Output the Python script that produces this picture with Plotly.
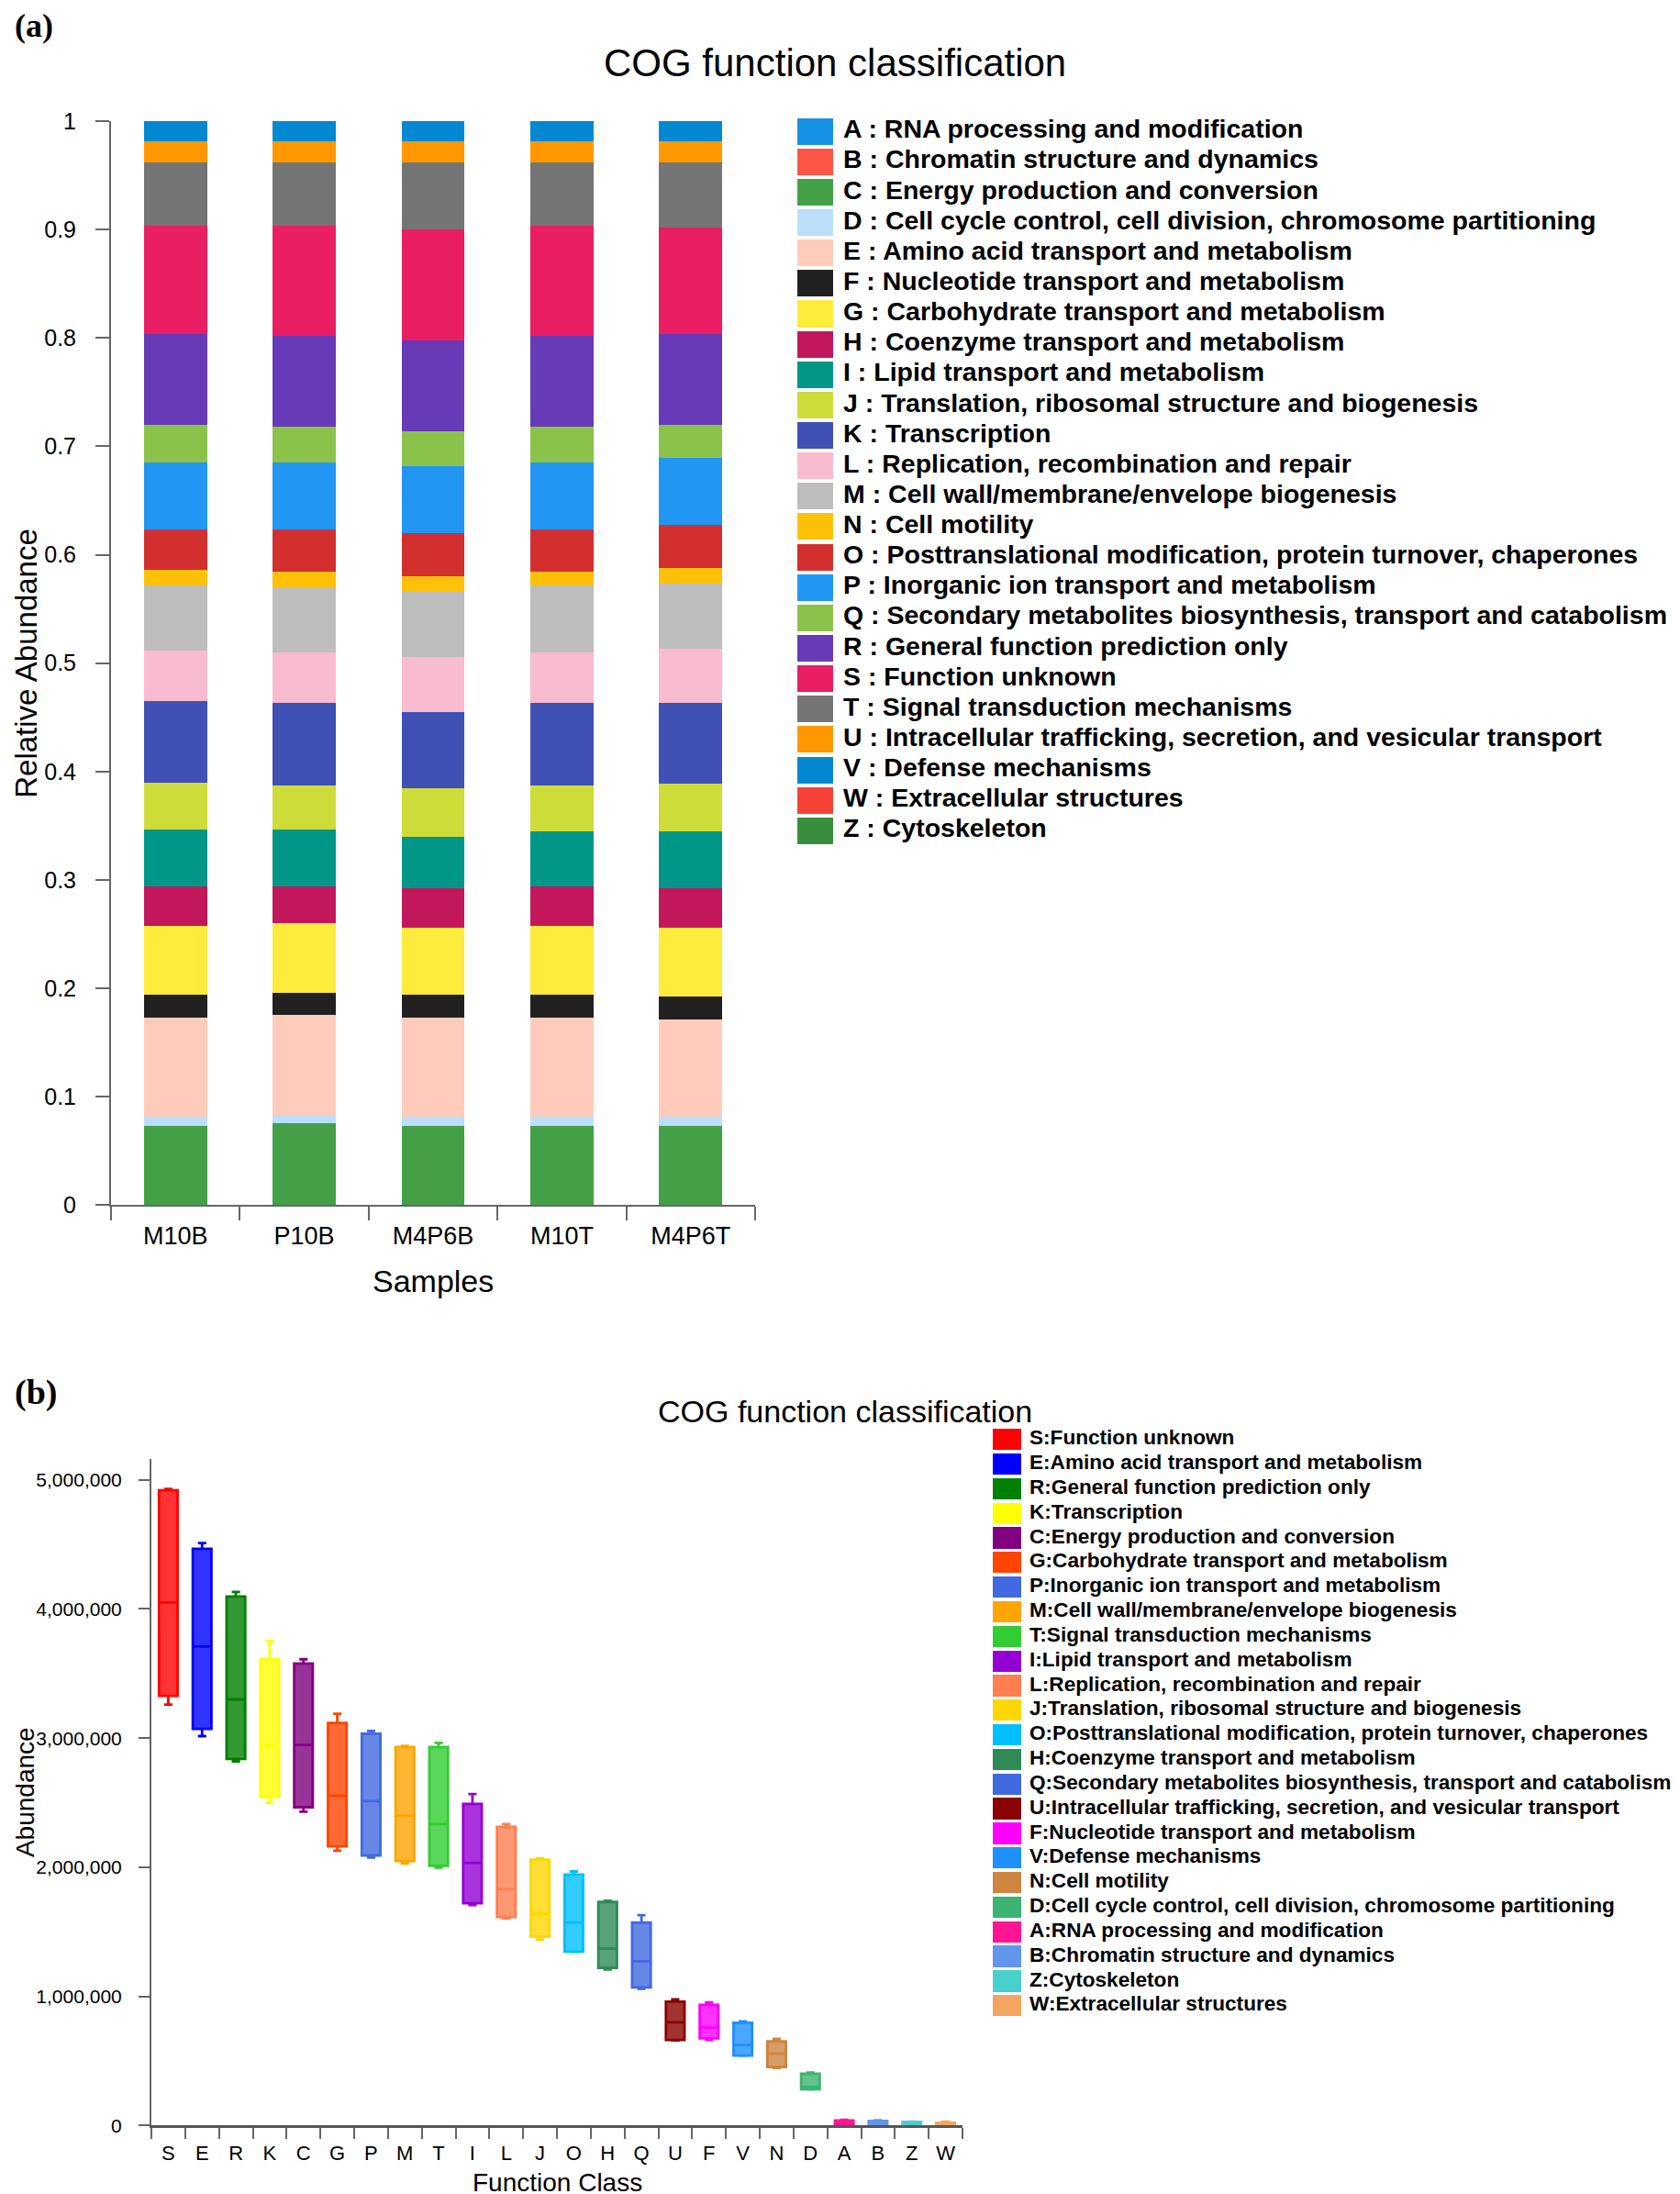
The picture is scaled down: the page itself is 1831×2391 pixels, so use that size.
import plotly.graph_objects as go

# Figure size (page has an 8px body margin); vertical placement calibrated to the page photo
OFF_X = 8
W, H = 1815, 2405
Y_SCALE, Y_OFF = 0.9873, 23.0

# ---------------- Panel (a) data ----------------
samples = ["M10B", "P10B", "M4P6B", "M10T", "M4P6T"]
cog_letters = ["A", "B", "C", "D", "E", "F", "G", "H", "I", "J", "K", "L", "M",
               "N", "O", "P", "Q", "R", "S", "T", "U", "V", "W", "Z"]
cog_names = [
    "RNA processing and modification",
    "Chromatin structure and dynamics",
    "Energy production and conversion",
    "Cell cycle control, cell division, chromosome partitioning",
    "Amino acid transport and metabolism",
    "Nucleotide transport and metabolism",
    "Carbohydrate transport and metabolism",
    "Coenzyme transport and metabolism",
    "Lipid transport and metabolism",
    "Translation, ribosomal structure and biogenesis",
    "Transcription",
    "Replication, recombination and repair",
    "Cell wall/membrane/envelope biogenesis",
    "Cell motility",
    "Posttranslational modification, protein turnover, chaperones",
    "Inorganic ion transport and metabolism",
    "Secondary metabolites biosynthesis, transport and catabolism",
    "General function prediction only",
    "Function unknown",
    "Signal transduction mechanisms",
    "Intracellular trafficking, secretion, and vesicular transport",
    "Defense mechanisms",
    "Extracellular structures",
    "Cytoskeleton",
]
# relative abundance per COG letter, samples order: M10B, P10B, M4P6B, M10T, M4P6T
rel_A = [0.0002, 0.0002, 0.0002, 0.0002, 0.0002]
rel_B = [0.0002, 0.0002, 0.0002, 0.0002, 0.0002]
rel_C = [0.0727, 0.0749, 0.0727, 0.0727, 0.0727]
rel_D = [0.0083, 0.0082, 0.0083, 0.0083, 0.0083]
rel_E = [0.0920, 0.0922, 0.0920, 0.0920, 0.0900]
rel_F = [0.0205, 0.0204, 0.0205, 0.0205, 0.0208]
rel_G = [0.0641, 0.0640, 0.0619, 0.0641, 0.0636]
rel_H = [0.0364, 0.0343, 0.0368, 0.0364, 0.0368]
rel_I = [0.0520, 0.0520, 0.0476, 0.0502, 0.0520]
rel_J = [0.0430, 0.0406, 0.0446, 0.0424, 0.0445]
rel_K = [0.0760, 0.0766, 0.0701, 0.0766, 0.0745]
rel_L = [0.0460, 0.0463, 0.0507, 0.0463, 0.0498]
rel_M = [0.0604, 0.0604, 0.0605, 0.0619, 0.0603]
rel_N = [0.0143, 0.0139, 0.0143, 0.0124, 0.0143]
rel_O = [0.0377, 0.0396, 0.0396, 0.0396, 0.0395]
rel_P = [0.0617, 0.0617, 0.0621, 0.0617, 0.0622]
rel_Q = [0.0343, 0.0324, 0.0320, 0.0324, 0.0301]
rel_R = [0.0840, 0.0840, 0.0840, 0.0840, 0.0840]
rel_S = [0.0998, 0.1017, 0.1017, 0.1017, 0.0979]
rel_T = [0.0580, 0.0580, 0.0618, 0.0580, 0.0599]
rel_U = [0.0200, 0.0200, 0.0200, 0.0200, 0.0200]
rel_V = [0.0188, 0.0188, 0.0188, 0.0188, 0.0188]
rel_W = [0.0001, 0.0001, 0.0001, 0.0001, 0.0001]
rel_Z = [0.0003, 0.0003, 0.0003, 0.0003, 0.0003]
rel_values = [rel_A, rel_B, rel_C, rel_D, rel_E, rel_F, rel_G, rel_H, rel_I, rel_J,
              rel_K, rel_L, rel_M, rel_N, rel_O, rel_P, rel_Q, rel_R, rel_S, rel_T,
              rel_U, rel_V, rel_W, rel_Z]
colors_a = ["#1592E6", "#FF5547", "#43A047", "#BBDEFB", "#FFCCBC", "#212121",
            "#FFEB3B", "#C2185B", "#009688", "#CDDC39", "#3F51B5", "#F8BBD0",
            "#BDBDBD", "#FFC107", "#D32F2F", "#2196F3", "#8BC34A", "#673AB7",
            "#E91E63", "#757575", "#FF9800", "#0288D1", "#F44336", "#388E3C"]
yticks_a = [0, 0.1, 0.2, 0.3, 0.4, 0.5, 0.6, 0.7, 0.8, 0.9, 1]
yticks_a_text = ["0", "0.1", "0.2", "0.3", "0.4", "0.5", "0.6", "0.7", "0.8", "0.9", "1"]

# ---------------- Panel (b) data ----------------
func_class = ["S", "E", "R", "K", "C", "G", "P", "M", "T", "I", "L", "J", "O",
              "H", "Q", "U", "F", "V", "N", "D", "A", "B", "Z", "W"]
func_names = [
    "Function unknown", "Amino acid transport and metabolism",
    "General function prediction only", "Transcription",
    "Energy production and conversion", "Carbohydrate transport and metabolism",
    "Inorganic ion transport and metabolism", "Cell wall/membrane/envelope biogenesis",
    "Signal transduction mechanisms", "Lipid transport and metabolism",
    "Replication, recombination and repair",
    "Translation, ribosomal structure and biogenesis",
    "Posttranslational modification, protein turnover, chaperones",
    "Coenzyme transport and metabolism",
    "Secondary metabolites biosynthesis, transport and catabolism",
    "Intracellular trafficking, secretion, and vesicular transport",
    "Nucleotide transport and metabolism", "Defense mechanisms", "Cell motility",
    "Cell cycle control, cell division, chromosome partitioning",
    "RNA processing and modification", "Chromatin structure and dynamics",
    "Cytoskeleton", "Extracellular structures",
]
# abundance of each class in the five samples (sorted)
abund_S = [3260000, 3350000, 4050000, 4915000, 4930000]
abund_E = [3016000, 3090000, 3710000, 4452000, 4510000]
abund_R = [2820000, 2845000, 3300000, 4085000, 4132000]
abund_K = [2500000, 2560000, 2947000, 3568000, 3753000]
abund_C = [2430000, 2477000, 2947000, 3568000, 3611000]
abund_G = [2129000, 2174000, 2553000, 3094000, 3189000]
abund_P = [2075000, 2098000, 2513000, 3028000, 3056000]
abund_M = [2030000, 2055000, 2400000, 2928000, 2940000]
abund_T = [1998000, 2015000, 2335000, 2920000, 2963000]
abund_I = [1707000, 1726000, 2034000, 2466000, 2568000]
abund_L = [1605000, 1619000, 1830000, 2305000, 2335000]
abund_J = [1439000, 1470000, 1641000, 2055000, 2070000]
abund_O = [1345000, 1347000, 1572000, 1935000, 1968000]
abund_H = [1209000, 1226000, 1370000, 1728000, 1742000]
abund_Q = [1060000, 1074000, 1273000, 1553000, 1629000]
abund_U = [660000, 664000, 800000, 955000, 977000]
abund_F = [664000, 680000, 759000, 929000, 955000]
abund_V = [540000, 543000, 624000, 794000, 806000]
abund_N = [447000, 457000, 557000, 645000, 671000]
abund_D = [280000, 281000, 300000, 398000, 410000]
abund_A = [5000, 8000, 25000, 38000, 45000]
abund_B = [5000, 8000, 22000, 35000, 42000]
abund_Z = [3000, 5000, 15000, 28000, 30000]
abund_W = [2000, 4000, 10000, 20000, 30000]
abund_values = [abund_S, abund_E, abund_R, abund_K, abund_C, abund_G, abund_P,
                abund_M, abund_T, abund_I, abund_L, abund_J, abund_O, abund_H,
                abund_Q, abund_U, abund_F, abund_V, abund_N, abund_D, abund_A,
                abund_B, abund_Z, abund_W]
colors_b = ["#FF0000", "#0000FF", "#008000", "#FFFF00", "#800080", "#FF4500",
            "#4169E1", "#FFA500", "#32CD32", "#9400D3", "#FF7F50", "#FFD700",
            "#00BFFF", "#2E8B57", "#4169E1", "#8B0000", "#FF00FF", "#1E90FF",
            "#CD853F", "#3CB371", "#FF1493", "#6495ED", "#48D1CC", "#F4A460"]
yticks_b = [0, 1000000, 2000000, 3000000, 4000000, 5000000]
yticks_b_text = ["0", "1,000,000", "2,000,000", "3,000,000", "4,000,000", "5,000,000"]

FONT = "Arial, Liberation Sans, Helvetica, sans-serif"
SERIF = "Times New Roman, Liberation Serif, serif"


def px(xr):
    """reference x pixel -> paper fraction"""
    return (xr - OFF_X) / W


def fy(yr):
    """reference y pixel -> figure y pixel"""
    return (yr - Y_OFF) / Y_SCALE


def py(yr):
    """reference y pixel -> paper fraction"""
    return 1 - fy(yr) / H


def rgba(hexcol, a):
    h = hexcol.lstrip("#")
    r, g, b = int(h[0:2], 16), int(h[2:4], 16), int(h[4:6], 16)
    return f"rgba({r},{g},{b},{a})"


fig = go.Figure()

# ---- Panel (a): stacked bars ----
for letter, vals, col in zip(cog_letters, rel_values, colors_a):
    fig.add_trace(go.Bar(x=samples, y=vals, name=letter, marker=dict(color=col, line=dict(width=0)),
                         width=0.49, xaxis="x", yaxis="y", showlegend=False))

# ---- Panel (a): legend as its own subplot ----
n_a = len(cog_letters)
leg_a_top = 127.5
fig.add_trace(go.Bar(y=list(range(n_a)), x=[39] * n_a, base=0, orientation="h",
                     marker=dict(color=colors_a, line=dict(width=0)), width=0.876,
                     xaxis="x3", yaxis="y3", showlegend=False, hoverinfo="skip"))
fig.add_trace(go.Scatter(y=list(range(n_a)), x=[50] * n_a, mode="text",
                         text=[f"{l} : {n}" for l, n in zip(cog_letters, cog_names)],
                         textposition="middle right",
                         textfont=dict(family=FONT, size=28.5, color="#000000", weight="bold"),
                         xaxis="x3", yaxis="y3", showlegend=False, cliponaxis=False,
                         hoverinfo="skip"))

# ---- Panel (b): box plots ----
for cat, vals, col in zip(func_class, abund_values, colors_b):
    fig.add_trace(go.Box(x=[cat] * len(vals), y=vals, name=cat, boxpoints=False,
                         line=dict(color=col, width=2.8), fillcolor=rgba(col, 0.8),
                         whiskerwidth=0.45, width=0.55, xaxis="x2", yaxis="y2",
                         showlegend=False))

# ---- Panel (b): legend subplot ----
n_b = len(func_class)
leg_b_top = 1554.6
fig.add_trace(go.Bar(y=list(range(n_b)), x=[31] * n_b, base=0, orientation="h",
                     marker=dict(color=colors_b, line=dict(width=0)), width=0.866,
                     xaxis="x4", yaxis="y4", showlegend=False, hoverinfo="skip"))
fig.add_trace(go.Scatter(y=list(range(n_b)), x=[40] * n_b, mode="text",
                         text=[f"{l}:{n}" for l, n in zip(func_class, func_names)],
                         textposition="middle right",
                         textfont=dict(family=FONT, size=22.6, color="#000000", weight="bold"),
                         xaxis="x4", yaxis="y4", showlegend=False, cliponaxis=False,
                         hoverinfo="skip"))

axis_common = dict(showgrid=False, zeroline=False, showline=True, ticks="outside",
                   tickcolor="#666666", tickwidth=2, linecolor="#666666", linewidth=2,
                   tickfont=dict(family=FONT, color="#000000"))

fig.update_layout(
    width=W, height=H,
    margin=dict(l=0, r=0, t=0, b=0),
    paper_bgcolor="white", plot_bgcolor="white",
    barmode="stack", boxmode="overlay",
    font=dict(family=FONT, color="#000000"),
    xaxis=dict(axis_common, domain=[px(121), px(823)], type="category",
               categoryorder="array", categoryarray=samples, tickson="boundaries",
               ticklen=15, ticklabelstandoff=8,
               tickfont=dict(family=FONT, size=27, color="#000000"),
               range=[-0.5, 4.5], anchor="y"),
    yaxis=dict(axis_common, domain=[py(1313), py(133)], range=[0, 1],
               tickvals=yticks_a, ticktext=yticks_a_text, ticklen=15,
               ticklabelstandoff=16, tickfont=dict(family=FONT, size=25, color="#000000"),
               anchor="x"),
    xaxis2=dict(axis_common, domain=[px(165), px(1049)], type="category",
                categoryorder="array", categoryarray=func_class, tickson="boundaries",
                ticklen=12, linecolor="#555555", linewidth=3, range=[-0.5, 23.5],
                ticklabelstandoff=8,
                tickfont=dict(family=FONT, size=22, color="#000000"), anchor="y2"),
    yaxis2=dict(axis_common, domain=[py(2315), py(1589)], range=[0, 5164000],
                tickvals=yticks_b, ticktext=yticks_b_text, ticklen=12,
                ticklabelstandoff=14, tickfont=dict(family=FONT, size=21, color="#000000"),
                anchor="x2"),
    xaxis3=dict(domain=[px(869), 1.0], range=[0, W - (869 - OFF_X)], visible=False,
                fixedrange=True, anchor="y3"),
    yaxis3=dict(domain=[py(leg_a_top + 24 * 33.1), py(leg_a_top)], range=[23.5, -0.5],
                visible=False, fixedrange=True, anchor="x3"),
    xaxis4=dict(domain=[px(1082), 1.0], range=[0, W - (1082 - OFF_X)], visible=False,
                fixedrange=True, anchor="y4"),
    yaxis4=dict(domain=[py(leg_b_top + 24 * 26.8), py(leg_b_top)], range=[23.5, -0.5],
                visible=False, fixedrange=True, anchor="x4"),
)

annotations = [
    dict(text="<b>(a)</b>", x=px(14), y=py(29), xanchor="left", yanchor="middle",
         font=dict(family=SERIF, size=36, color="#000000")),
    dict(text="<b>(b)</b>", x=px(14), y=py(1517), xanchor="left", yanchor="middle",
         font=dict(family=SERIF, size=38, color="#000000")),
    dict(text="COG function classification", x=px(910), y=py(69), xanchor="center",
         yanchor="middle", font=dict(family=FONT, size=42, color="#000000")),
    dict(text="COG function classification", x=px(921), y=py(1537), xanchor="center",
         yanchor="middle", font=dict(family=FONT, size=34, color="#000000")),
    dict(text="Samples", x=px(472), y=py(1396), xanchor="center", yanchor="middle",
         font=dict(family=FONT, size=34, color="#000000")),
    dict(text="Relative Abundance", x=px(29), y=py(723), xanchor="center", yanchor="middle",
         textangle=-90, font=dict(family=FONT, size=33, color="#000000")),
    dict(text="Function Class", x=px(607), y=py(2377), xanchor="center", yanchor="middle",
         font=dict(family=FONT, size=28, color="#000000")),
    dict(text="Abundance", x=px(27), y=py(1952), xanchor="center", yanchor="middle",
         textangle=-90, font=dict(family=FONT, size=28, color="#000000")),
]
for a in annotations:
    a.update(xref="paper", yref="paper", showarrow=False)
fig.update_layout(annotations=annotations)

fig.write_html("out.html")
